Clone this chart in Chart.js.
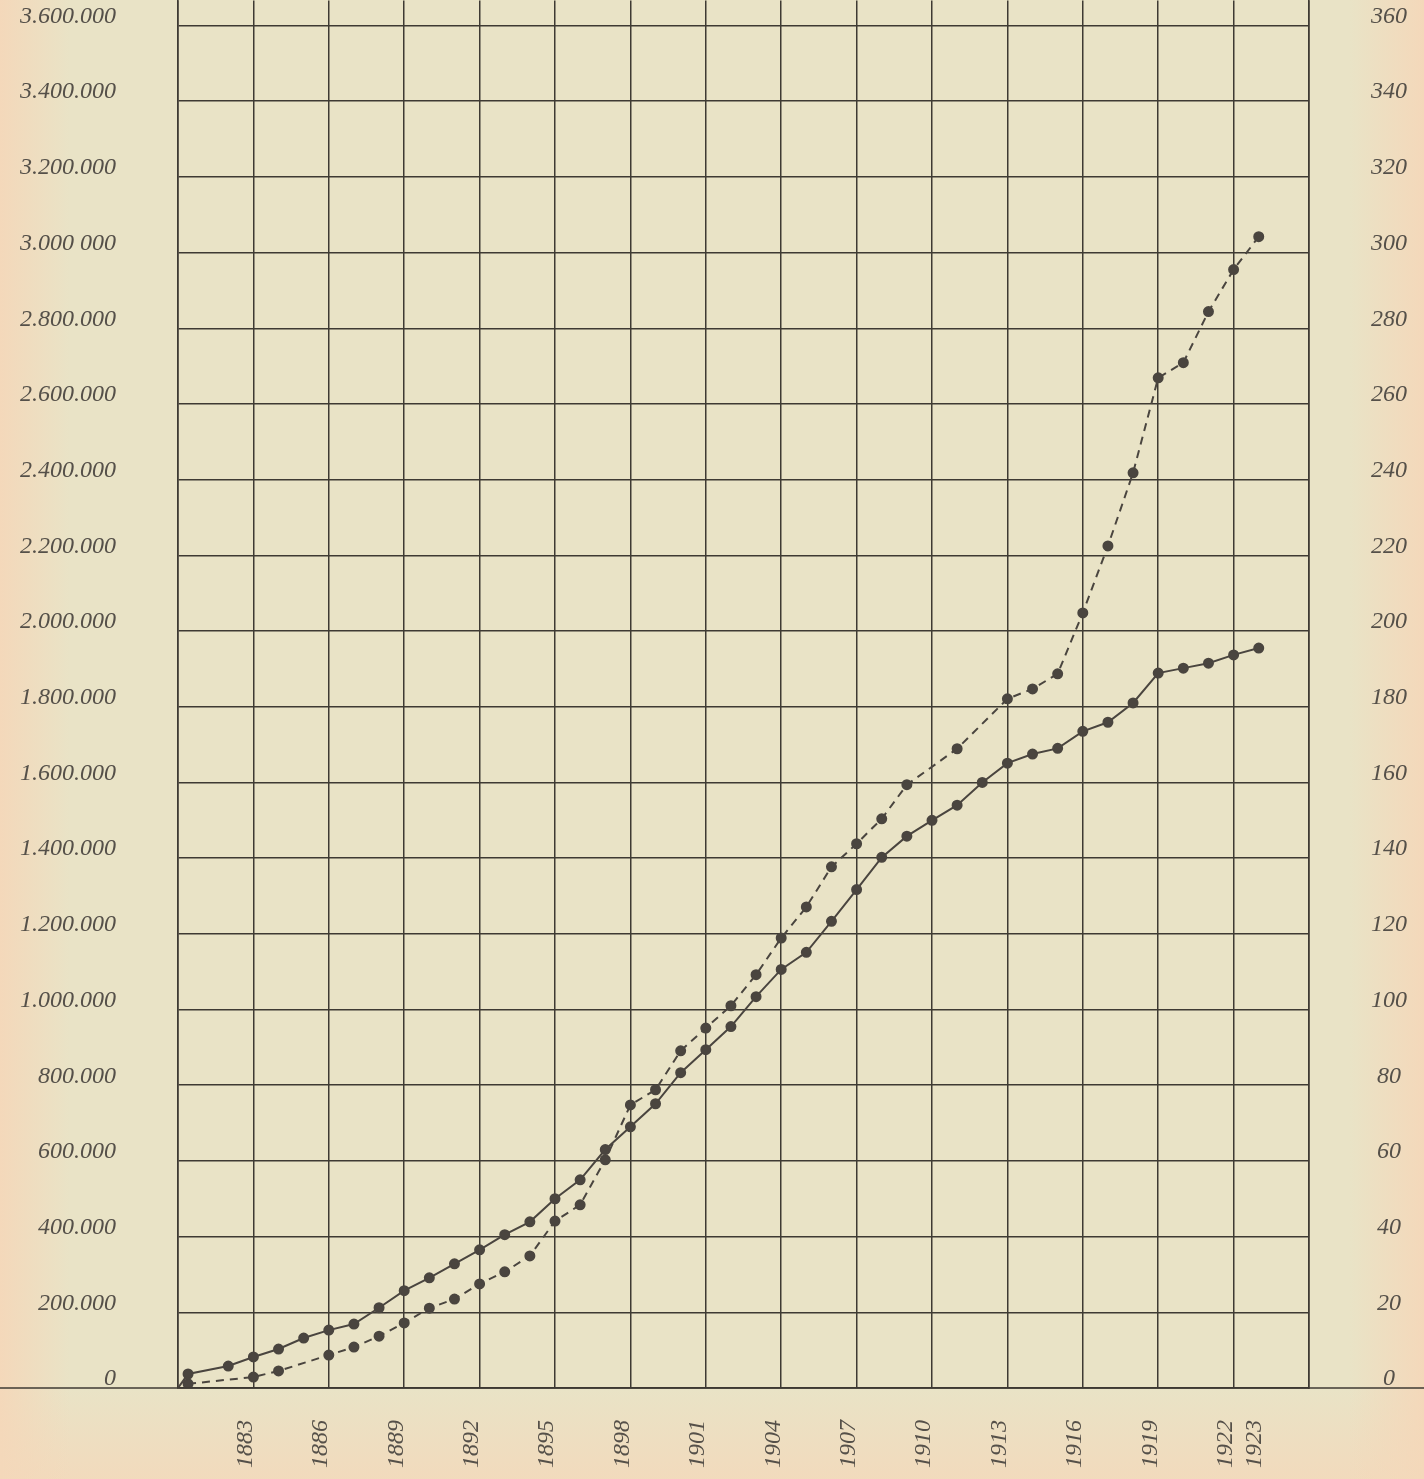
<!DOCTYPE html>
<html>
<head>
<meta charset="utf-8">
<script src="https://cdn.jsdelivr.net/npm/chart.js@4/dist/chart.umd.min.js"></script>
<style>
body { margin: 0; }
#wrap {
    position: relative; overflow: hidden;
    width: 1424px; height: 1479px;
    background:
        linear-gradient(to right, #f4d8ba 0px, rgba(244,216,186,0) 70px, rgba(244,216,186,0) 1350px, #f4d8ba 1424px),
        linear-gradient(to top, rgba(244,216,186,0.8) 0px, rgba(244,216,186,0) 90px),
        #e9e3c6;
}
#grafico { position: absolute; left: 0; top: -6px; }
</style>
</head>
<body>
<div id="wrap"><canvas id="grafico" width="1424" height="1485"></canvas></div>
<script>
// solid line, left axis
var solidYears = [1880, 1880.4, 1882, 1883, 1884, 1885, 1886, 1887, 1888, 1889, 1890,
    1891, 1892, 1893, 1894, 1895, 1896, 1897, 1898, 1899, 1900,
    1901, 1902, 1903, 1904, 1905, 1906, 1907, 1908, 1909, 1910,
    1911, 1912, 1913, 1914, 1915, 1916, 1917, 1918, 1919, 1920,
    1921, 1922, 1923];
var solidValues = [0, 37000, 58000, 82000, 103000, 132000, 153000, 169000, 212000, 257000, 291000,
    328000, 365000, 405000, 439000, 500000, 550000, 630000, 690000, 751000, 833000,
    894000, 955000, 1034000, 1106000, 1151000, 1233000, 1317000, 1402000, 1458000, 1500000,
    1540000, 1600000, 1651000, 1675000, 1690000, 1735000, 1759000, 1810000, 1889000, 1902000,
    1915000, 1937000, 1955000];

// dashed line, right axis
var dashedYears = [1880.4, 1883, 1884, 1886, 1887, 1888, 1889, 1890,
    1891, 1892, 1893, 1894, 1895, 1896, 1897, 1898, 1899, 1900,
    1901, 1902, 1903, 1904, 1905, 1906, 1907, 1908, 1909,
    1911, 1913, 1914, 1915, 1916, 1917, 1918, 1919, 1920,
    1921, 1922, 1923];
var dashedValues = [1.1, 2.9, 4.5, 8.7, 10.8, 13.7, 17.2, 21.1,
    23.5, 27.5, 30.7, 34.9, 44.1, 48.4, 60.3, 74.8, 78.8, 89.1,
    95.1, 101, 109.2, 118.9, 127.1, 137.7, 143.8, 150.4, 159.4,
    168.9, 182.1, 184.7, 188.7, 204.8, 222.5, 241.8, 266.9, 270.9,
    284.4, 295.5, 304.2];

var leftTicks = [0, 200000, 400000, 600000, 800000, 1000000, 1200000, 1400000, 1600000, 1800000,
    2000000, 2200000, 2400000, 2600000, 2800000, 3000000, 3200000, 3400000, 3600000];
var leftLabels = ['0', '200.000', '400.000', '600.000', '800.000', '1.000.000', '1.200.000', '1.400.000',
    '1.600.000', '1.800.000', '2.000.000', '2.200.000', '2.400.000', '2.600.000', '2.800.000',
    '3.000 000', '3.200.000', '3.400.000', '3.600.000'];
var rightTicks = [0, 20, 40, 60, 80, 100, 120, 140, 160, 180, 200, 220, 240, 260, 280, 300, 320, 340, 360];
var yearTicks = [1880, 1883, 1886, 1889, 1892, 1895, 1898, 1901, 1904, 1907, 1910, 1913, 1916, 1919, 1922, 1925];
var yearLabels = ['', '1883', '1886', '1889', '1892', '1895', '1898', '1901', '1904', '1907',
    '1910', '1913', '1916', '1919', ['1922', '1923'], ''];

var inkt = '#4a453f';
var fonte = { family: '"Liberation Serif", serif', size: 24, style: 'italic' };

function pares(xs, ys) {
    return xs.map(function (x, i) { return { x: x, y: ys[i] }; });
}

// the side axes must not push the plot down from the top edge
function zetBreedte(w) {
    return function (scale) {
        scale.width = w;
        scale.paddingTop = 0;
        scale.paddingBottom = 0;
    };
}

// zero line runs over the whole width of the page
var basisLijn = {
    id: 'basisLijn',
    afterDraw: function (chart) {
        var ctx = chart.ctx;
        var y = chart.scales.yL.getPixelForValue(0);
        ctx.save();
        ctx.strokeStyle = '#3e3a33';
        ctx.lineWidth = 1.6;
        ctx.beginPath();
        ctx.moveTo(0, y);
        ctx.lineTo(chart.width, y);
        ctx.stroke();
        ctx.restore();
    }
};

var ctx = document.getElementById('grafico').getContext('2d');
var grafico = new Chart(ctx, {
    type: 'line',
    data: {
        datasets: [
            {
                data: pares(solidYears, solidValues),
                yAxisID: 'yL',
                borderColor: inkt,
                borderWidth: 2,
                backgroundColor: inkt,
                pointBackgroundColor: inkt,
                pointBorderColor: inkt,
                pointRadius: solidYears.map(function (y, i) { return i === 0 ? 0 : 4.5; }),
                tension: 0
            },
            {
                data: pares(dashedYears, dashedValues),
                yAxisID: 'yR',
                borderColor: inkt,
                borderWidth: 2,
                borderDash: [8, 6],
                backgroundColor: inkt,
                pointBackgroundColor: inkt,
                pointBorderColor: inkt,
                pointRadius: 4.5,
                tension: 0
            }
        ]
    },
    options: {
        responsive: false,
        animation: false,
        devicePixelRatio: 1,
        layout: { padding: 0 },
        plugins: { legend: { display: false }, tooltip: { enabled: false } },
        scales: {
            x: {
                type: 'linear',
                min: 1880,
                max: 1925,
                afterBuildTicks: function (scale) {
                    scale.ticks = yearTicks.map(function (v) { return { value: v }; });
                },
                afterFit: function (scale) {
                    scale.height = 91;
                    scale.paddingLeft = 0;
                    scale.paddingRight = 0;
                },
                grid: { color: '#3e3a33', lineWidth: 1.5, drawTicks: false },
                border: { color: '#3e3a33', width: 1.6 },
                ticks: {
                    color: '#555049',
                    font: fonte,
                    minRotation: 90,
                    maxRotation: 90,
                    padding: 32,
                    labelOffset: -8,
                    autoSkip: false,
                    callback: function (v, i) { return yearLabels[i]; }
                }
            },
            yL: {
                position: 'left',
                min: 0,
                max: 3666000,
                afterBuildTicks: function (scale) {
                    scale.ticks = leftTicks.map(function (v) { return { value: v }; });
                },
                afterFit: zetBreedte(178),
                grid: { color: '#3e3a33', lineWidth: 1.5, drawTicks: false },
                border: { color: '#3e3a33', width: 1.6 },
                ticks: {
                    color: '#555049',
                    font: fonte,
                    padding: 62,
                    labelOffset: -9,
                    autoSkip: false,
                    callback: function (v, i) { return leftLabels[i]; }
                }
            },
            yR: {
                position: 'right',
                min: 0,
                max: 366.6,
                afterBuildTicks: function (scale) {
                    scale.ticks = rightTicks.map(function (v) { return { value: v }; });
                },
                afterFit: zetBreedte(115),
                grid: { display: false, drawTicks: false },
                border: { color: '#3e3a33', width: 1.6 },
                ticks: {
                    color: '#555049',
                    font: fonte,
                    padding: 62,
                    labelOffset: -9,
                    crossAlign: 'center',
                    autoSkip: false,
                    callback: function (v) { return String(v); }
                }
            }
        }
    },
    plugins: [basisLijn]
});
</script>
</body>
</html>
